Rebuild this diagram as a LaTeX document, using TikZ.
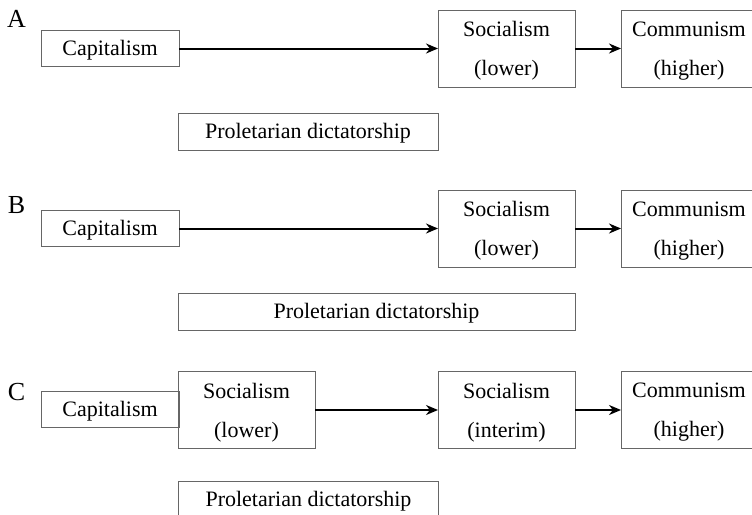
\documentclass[tikz,border=0pt]{standalone}
\usepackage{fontspec}
\setmainfont{Liberation Serif}
\usetikzlibrary{arrows.meta,positioning}

\begin{document}
\begin{tikzpicture}[x=0.5pt,y=-0.5pt,>={Stealth[length=6pt,width=5pt]},
   every node/.style={font=\fontsize{11}{19.5}\selectfont,inner sep=0pt,outer sep=0pt},
   box/.style={draw=black!60,line width=0.5pt,minimum width=69pt,minimum height=18pt,
     text height=9.5pt,text depth=2.4pt},
   tallbox/.style={draw=black!60,line width=0.5pt,minimum width=68.5pt,minimum height=38.5pt,
     align=center,text depth=-1.2pt},
   probox/.style={draw=black!60,line width=0.5pt,minimum height=18.5pt,
     text height=9pt,text depth=2.4pt},
   lbl/.style={font=\fontsize{13}{15}\selectfont},
   flow/.style={->,line width=1pt}]
  \useasboundingbox (0,0) rectangle (752,515);
  % row A
  \node[lbl] (la) at (16.5,18.5) {A};
  \node[box] (capA) at (110,48.5) {Capitalism};
  \node[tallbox] (socA) at (506.5,48.5) {Socialism\\(lower)};
  \node[tallbox,minimum width=68pt] (comA) at (689,48.5) {Communism\\(higher)};
  \node[probox,minimum width=130pt] (proA) at (308,131.5) {Proletarian dictatorship};
  \draw[flow] (capA) -- (socA);
  \draw[flow] (socA) -- (comA);
  % row B
  \node[lbl] (lb) at (16.5,205) {B};
  \node[box] (capB) at (110,228.5) {Capitalism};
  \node[tallbox] (socB) at (506.5,228.5) {Socialism\\(lower)};
  \node[tallbox,minimum width=68pt] (comB) at (689,228.5) {Communism\\(higher)};
  \node[probox,minimum width=198.5pt] (proB) at (376.5,311.5) {Proletarian dictatorship};
  \draw[flow] (capB) -- (socB);
  \draw[flow] (socB) -- (comB);
  % row C
  \node[lbl] (lc) at (16.5,392) {C};
  \node[box] (capC) at (110,409.5) {Capitalism};
  \node[tallbox] (socC) at (246.5,410) {Socialism\\(lower)};
  \node[tallbox] (intC) at (506.5,410) {Socialism\\(interim)};
  \node[tallbox,minimum width=68pt] (comC) at (689,410) {Communism\\(higher)};
  \node[probox,minimum width=130pt] (proC) at (308.5,499.5) {Proletarian dictatorship};
  \draw[flow] (socC) -- (intC);
  \draw[flow] (intC) -- (comC);
\end{tikzpicture}
\end{document}
